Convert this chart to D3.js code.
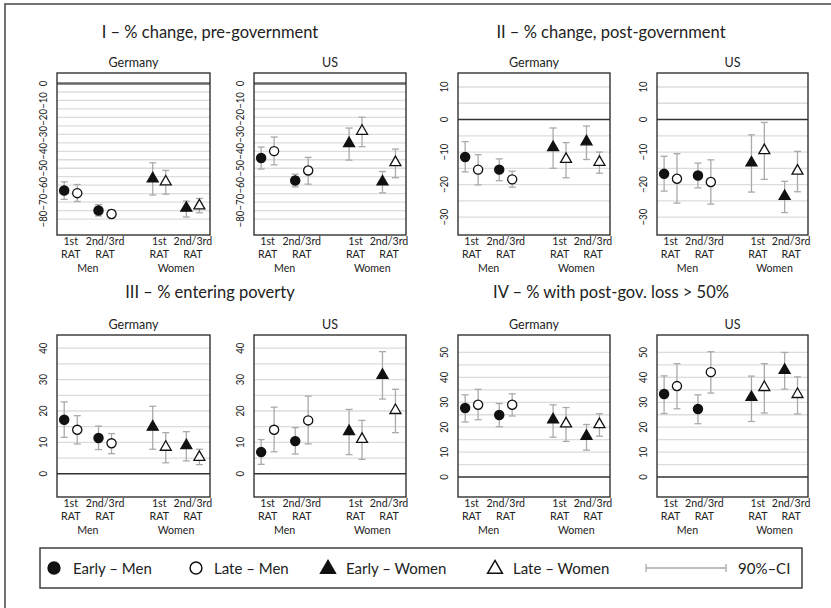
<!DOCTYPE html>
<html>
<head>
<meta charset="utf-8">
<script src="https://cdn.jsdelivr.net/npm/d3@7"></script>
<style>
  html, body { margin: 0; padding: 0; background: #fff; }
  svg { display: block; font-family: Lato, "Open Sans", sans-serif; }
</style>
</head>
<body>
<svg id="chart" width="831" height="608"></svg>
<script>
// ---------------- DATA ----------------
const countries = ["Germany", "US"];
const groups = ["Men", "Women"];
const ratLabels = [["1st", "RAT"], ["2nd/3rd", "RAT"]];
const seriesNames = ["Early – Men", "Late – Men", "Early – Women", "Late – Women"];
const ciLabel = "90%–CI";
const panelTitles = [
  "I – % change, pre-government",
  "II – % change, post-government",
  "III – % entering poverty",
  "IV – % with post-gov. loss > 50%"
];
const yTicksI = [0, -10, -20, -30, -40, -50, -60, -70, -80];
const yTicksII = [10, 0, -10, -20, -30];
const yTicksIII = [0, 10, 20, 30, 40];
const yTicksIV = [0, 10, 20, 30, 40, 50];

// rows: [estimate, CI low, CI high]
// order: EarlyMen 1st, EarlyMen 2nd/3rd, LateMen 1st, LateMen 2nd/3rd,
//        EarlyWomen 1st, EarlyWomen 2nd/3rd, LateWomen 1st, LateWomen 2nd/3rd
const preGovGermany = [
  [-63.1, -68.4, -58.0], [-74.9, -78.2, -71.5],
  [-64.7, -69.6, -59.6], [-77.0, -79.2, -74.5],
  [-56.2, -65.8, -46.8], [-73.5, -78.8, -69.4],
  [-58.0, -65.3, -51.3], [-72.1, -76.3, -67.8]
];
const preGovUS = [
  [-44.0, -50.5, -37.5], [-57.2, -61.0, -53.5],
  [-39.9, -48.0, -31.6], [-51.3, -59.4, -43.6],
  [-35.4, -45.2, -26.3], [-58.0, -64.5, -51.9],
  [-28.1, -37.3, -19.9], [-46.6, -55.6, -38.7]
];
const postGovGermany = [
  [-11.5, -16.1, -6.8], [-15.4, -18.8, -12.1],
  [-15.4, -20.1, -10.8], [-18.4, -20.8, -15.9],
  [-8.6, -15.0, -2.6], [-6.8, -12.3, -2.0],
  [-12.2, -17.9, -7.1], [-13.1, -16.5, -10.0]
];
const postGovUS = [
  [-16.7, -22.0, -11.3], [-17.2, -21.0, -13.4],
  [-18.2, -25.7, -10.5], [-19.2, -26.0, -12.4],
  [-13.3, -22.3, -4.7], [-23.6, -28.6, -19.0],
  [-9.5, -18.4, -0.9], [-15.8, -22.2, -9.8]
];
const povertyGermany = [
  [17.2, 11.6, 22.9], [11.4, 7.7, 15.2],
  [14.0, 9.5, 18.5], [9.7, 6.4, 12.8],
  [14.9, 7.8, 21.5], [9.0, 4.1, 13.4],
  [8.5, 3.5, 13.1], [5.3, 2.9, 7.8]
];
const povertyUS = [
  [6.9, 3.0, 10.9], [10.4, 6.3, 14.7],
  [14.0, 7.0, 21.2], [17.0, 9.5, 24.7],
  [13.5, 6.1, 20.5], [31.4, 23.8, 38.9],
  [11.0, 4.6, 17.0], [20.2, 13.1, 26.9]
];
const lossGermany = [
  [27.7, 22.1, 33.0], [24.9, 20.2, 29.5],
  [29.0, 23.0, 35.2], [29.0, 24.5, 33.4],
  [23.0, 16.0, 29.0], [16.4, 10.8, 21.1],
  [21.4, 14.3, 27.9], [21.1, 16.4, 25.4]
];
const lossUS = [
  [33.3, 25.5, 40.6], [27.3, 21.4, 33.0],
  [36.5, 27.4, 45.5], [42.1, 33.7, 50.3],
  [32.0, 22.3, 40.5], [42.9, 35.3, 50.0],
  [36.0, 25.7, 45.5], [33.2, 25.3, 40.2]
];

// ---------------- LAYOUT ----------------
const svg = d3.select("#chart");
const colX = [[57, 210], [254, 406], [458, 610], [657, 808]];
const rowY = [[73, 235], [335, 497]];

const panels = [
  { title: 0, row: 0, half: 0, dom: [-89.4, 6.2], ticks: yTicksI, grid: [-80, 0], data: [preGovGermany, preGovUS], zeroThick: true },
  { title: 1, row: 0, half: 1, dom: [-35.5, 14.3], ticks: yTicksII, grid: [-30, 10], data: [postGovGermany, postGovUS] },
  { title: 2, row: 1, half: 0, dom: [-7.4, 44.2], ticks: yTicksIII, grid: [0, 40], data: [povertyGermany, povertyUS] },
  { title: 3, row: 1, half: 1, dom: [-8, 57], ticks: yTicksIV, grid: [0, 50], data: [lossGermany, lossUS] }
];

// frame (top + left)
svg.append("path").attr("d", "M5,608 V4 H831").attr("fill", "none")
  .attr("stroke", "#444").attr("stroke-width", 1.5);

const titleCx = [210, 611];
const titleY = [38, 298];

// slot positions (x units) for [Men 1st, Men 2nd, Women 1st, Women 2nd]
const slotPos = [1, 2, 3.58, 4.56];
const offs = 0.19;

const circleSym = d3.symbol().type(d3.symbolCircle).size(66);
const triSym = d3.symbol().type(d3.symbolTriangle).size(52);

function smallText(g, x, y, txt, rot, cond) {
  return g.append("text")
    .attr("transform", `translate(${x},${y})${rot ? " rotate(-90)" : ""} scale(${cond},1)`)
    .attr("text-anchor", "middle").attr("font-size", 11.2).attr("fill", "#222")
    .text(txt);
}

panels.forEach(p => {
  const [y0, y1] = rowY[p.row];
  svg.append("text")
    .attr("x", titleCx[p.half]).attr("y", titleY[p.row])
    .attr("text-anchor", "middle").attr("font-size", 16.5).attr("fill", "#222")
    .text(panelTitles[p.title]);

  countries.forEach((cn, ci) => {
    const [x0, x1] = colX[p.half * 2 + ci];
    const x = d3.scaleLinear().domain([0.6, 5.06]).range([x0, x1]);
    const y = d3.scaleLinear().domain(p.dom).range([y1, y0]);
    const g = svg.append("g");

    // country label
    g.append("text").attr("x", (x0 + x1) / 2).attr("y", y0 - 6)
      .attr("text-anchor", "middle").attr("font-size", 12.5).attr("fill", "#222")
      .text(cn);

    // gridlines every 5
    const gridVals = d3.range(p.grid[0], p.grid[1] + 0.001, 5).filter(v => v !== 0);
    g.selectAll(".grid").data(gridVals).enter().append("line")
      .attr("x1", x0).attr("x2", x1)
      .attr("y1", d => y(d)).attr("y2", d => y(d))
      .attr("stroke", "#dcdcdc").attr("stroke-width", 1.3);

    // zero line
    g.append("line").attr("x1", x0).attr("x2", x1)
      .attr("y1", y(0)).attr("y2", y(0))
      .attr("stroke", p.zeroThick ? "#666" : "#333")
      .attr("stroke-width", p.zeroThick ? 2.6 : 1.4);

    // box
    g.append("rect").attr("x", x0).attr("y", y0)
      .attr("width", x1 - x0).attr("height", y1 - y0)
      .attr("fill", "none").attr("stroke", "#333").attr("stroke-width", 1.4);

    // y tick labels (rotated)
    p.ticks.forEach(t => smallText(g, x0 - 10.5, y(t), t < 0 ? "−" + Math.abs(t) : String(t), true, 0.86));

    // x labels
    const pairC = slotPos.map(s => x(s));
    pairC.forEach((cx, i) => {
      const r = ratLabels[i % 2];
      smallText(g, cx, y1 + 9.7, r[0], false, 0.95);
      smallText(g, cx, y1 + 23.2, r[1], false, 0.95);
    });
    groups.forEach((gn, gi) => {
      smallText(g, (pairC[gi * 2] + pairC[gi * 2 + 1]) / 2, y1 + 37.2, gn, false, 0.95);
    });

    // points
    const rows = p.data[ci];
    const pts = rows.map((r, i) => {
      const s = Math.floor(i / 2);      // series
      const rat = i % 2;
      const grp = s < 2 ? 0 : 1;
      const late = s % 2 === 1;
      const xv = slotPos[grp * 2 + rat] + (late ? offs : -offs);
      return { s, xv, est: r[0], lo: r[1], hi: r[2] };
    });
    const eb = g.selectAll(".eb").data(pts).enter().append("g")
      .attr("stroke", "#aaa").attr("stroke-width", 1.3);
    eb.append("line").attr("x1", d => x(d.xv)).attr("x2", d => x(d.xv))
      .attr("y1", d => y(d.lo)).attr("y2", d => y(d.hi));
    eb.append("line").attr("x1", d => x(d.xv) - 3.5).attr("x2", d => x(d.xv) + 3.5)
      .attr("y1", d => y(d.lo)).attr("y2", d => y(d.lo));
    eb.append("line").attr("x1", d => x(d.xv) - 3.5).attr("x2", d => x(d.xv) + 3.5)
      .attr("y1", d => y(d.hi)).attr("y2", d => y(d.hi));

    g.selectAll(".pt").data(pts).enter().append("path")
      .attr("transform", d => `translate(${x(d.xv)},${y(d.est)})`)
      .attr("d", d => d.s < 2 ? circleSym() : triSym())
      .attr("fill", d => d.s % 2 === 0 ? "#111" : "#fff")
      .attr("stroke", "#111").attr("stroke-width", 1.3);
  });
});

// ---------------- LEGEND ----------------
const lg = svg.append("g");
lg.append("rect").attr("x", 40).attr("y", 548).attr("width", 762).attr("height", 40)
  .attr("fill", "#fff").attr("stroke", "#333").attr("stroke-width", 1.4);
const legY = 568;
const legItems = [
  { sym: "c", fill: "#111", mx: 54, tx: 73 },
  { sym: "c", fill: "#fff", mx: 196, tx: 214 },
  { sym: "t", fill: "#111", mx: 328, tx: 346 },
  { sym: "t", fill: "#fff", mx: 495, tx: 513 }
];
const legCircle = d3.symbol().type(d3.symbolCircle).size(110);
const legTri = d3.symbol().type(d3.symbolTriangle).size(95);
legItems.forEach((it, i) => {
  lg.append("path").attr("transform", `translate(${it.mx},${legY + (it.sym === "t" ? 1 : 0)})`)
    .attr("d", it.sym === "c" ? legCircle() : legTri())
    .attr("fill", it.fill).attr("stroke", "#111").attr("stroke-width", 1.5);
  lg.append("text").attr("x", it.tx).attr("y", legY + 5.5)
    .attr("font-size", 15).attr("fill", "#222").text(seriesNames[i]);
});
const ciG = lg.append("g").attr("stroke", "#aaa").attr("stroke-width", 1.3);
ciG.append("line").attr("x1", 646).attr("x2", 726).attr("y1", legY).attr("y2", legY);
ciG.append("line").attr("x1", 646).attr("x2", 646).attr("y1", legY - 4).attr("y2", legY + 4);
ciG.append("line").attr("x1", 726).attr("x2", 726).attr("y1", legY - 4).attr("y2", legY + 4);
lg.append("text").attr("x", 738).attr("y", legY + 5.5)
  .attr("font-size", 15).attr("fill", "#222").text(ciLabel);
</script>
</body>
</html>
